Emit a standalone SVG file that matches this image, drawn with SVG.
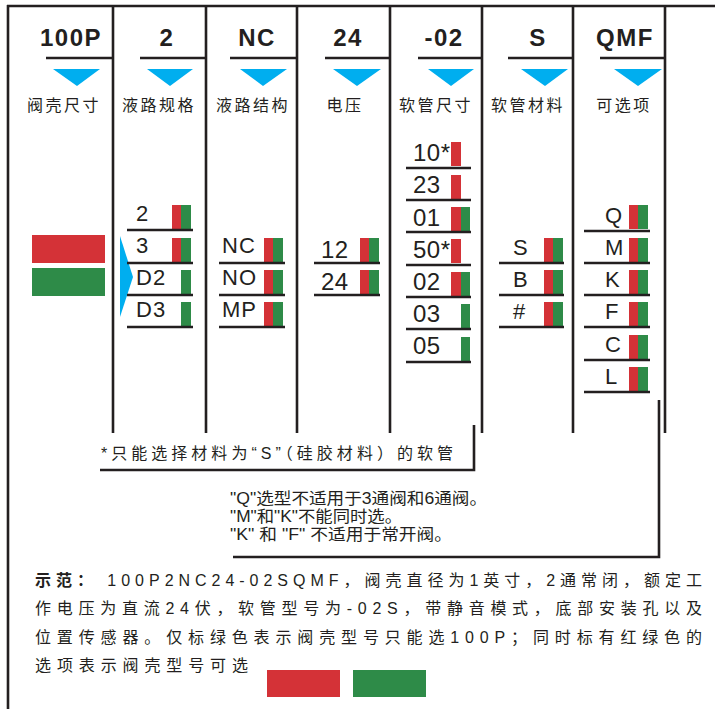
<svg xmlns="http://www.w3.org/2000/svg" width="715" height="709" viewBox="0 0 715 709">
<style>
.ln{stroke:#231f20;stroke-width:2.6;fill:none}
.rl{stroke:#231f20;stroke-width:2.4;fill:none}
.hd{font-family:"Liberation Sans",Arial,sans-serif;font-weight:bold;font-size:24px;fill:#231f20;text-anchor:middle;letter-spacing:1.5px}
.lb{font-family:"Liberation Sans","Noto Sans CJK SC",sans-serif;font-size:16px;fill:#231f20;text-anchor:middle;letter-spacing:2.5px}
.t22{font-family:"Liberation Sans",Arial,sans-serif;font-size:22px;fill:#231f20;letter-spacing:1px}
.t24{font-family:"Liberation Sans",Arial,sans-serif;font-size:24px;fill:#231f20;letter-spacing:0.5px}
.nt{font-family:"Liberation Sans","Noto Sans CJK SC",sans-serif;font-size:16px;fill:#231f20}
.bt{font-family:"Liberation Sans","Noto Sans CJK SC",sans-serif;font-size:16px;fill:#231f20}
.tri{fill:#00aeef}
.r{fill:#d43237}
.g{fill:#2e8b48}
</style>

<g id="frame">
<line class="ln" x1="7" y1="6" x2="715" y2="6"/>
<line class="ln" x1="8" y1="5" x2="8" y2="709"/>
<line class="ln" x1="113" y1="6" x2="113" y2="433"/>
<line class="ln" x1="206" y1="6" x2="206" y2="433"/>
<line class="ln" x1="297" y1="6" x2="297" y2="433"/>
<line class="ln" x1="390" y1="6" x2="390" y2="433"/>
<line class="ln" x1="482" y1="6" x2="482" y2="433"/>
<line class="ln" x1="573" y1="6" x2="573" y2="433"/>
<line class="ln" x1="665" y1="6" x2="665" y2="433"/>
</g>

<g id="col-size">
<text class="hd" x="71" y="46">100P</text>
<line class="ln" x1="46" y1="58" x2="112" y2="58"/>
<polygon class="tri" points="53,69 100,69 77,86"/>
<text class="lb" x="64" y="111">阀壳尺寸</text>
<rect class="r" x="32" y="235" width="73" height="28"/>
<rect class="g" x="32" y="268" width="73" height="28"/>
</g>

<g id="col-spec">
<text class="hd" x="167" y="46">2</text>
<line class="ln" x1="140" y1="58" x2="205" y2="58"/>
<polygon class="tri" points="147,69 193,69 170,86"/>
<text class="lb" x="159" y="111">液路规格</text>
<polygon class="tri" points="120,236 133,277 120,317"/>
<text class="t22" x="136" y="221">2</text>
<text class="t22" x="136" y="253">3</text>
<text class="t22" x="136" y="285">D2</text>
<text class="t22" x="136" y="317">D3</text>
<rect class="r" x="172" y="205" width="9" height="24"/><rect class="g" x="181" y="205" width="10" height="24"/>
<rect class="r" x="172" y="238" width="9" height="24"/><rect class="g" x="181" y="238" width="10" height="24"/>
<rect class="g" x="181" y="270" width="10" height="24"/>
<rect class="g" x="181" y="302" width="10" height="24"/>
<line class="rl" x1="127" y1="230" x2="193" y2="230"/>
<line class="rl" x1="127" y1="263" x2="193" y2="263"/>
<line class="rl" x1="127" y1="295" x2="193" y2="295"/>
<line class="rl" x1="127" y1="327" x2="193" y2="327"/>
</g>

<g id="col-struct">
<text class="hd" x="257" y="46">NC</text>
<line class="ln" x1="230" y1="58" x2="296" y2="58"/>
<polygon class="tri" points="240,69 287,69 263,86"/>
<text class="lb" x="253" y="111">液路结构</text>
<text class="t22" x="222" y="253">NC</text>
<text class="t22" x="222" y="285">NO</text>
<text class="t22" x="222" y="317">MP</text>
<rect class="r" x="264" y="238" width="9" height="24"/><rect class="g" x="273" y="238" width="10" height="24"/>
<rect class="r" x="264" y="270" width="9" height="24"/><rect class="g" x="273" y="270" width="10" height="24"/>
<rect class="r" x="264" y="302" width="9" height="24"/><rect class="g" x="273" y="302" width="10" height="24"/>
<line class="rl" x1="219" y1="263" x2="285" y2="263"/>
<line class="rl" x1="219" y1="295" x2="285" y2="295"/>
<line class="rl" x1="219" y1="327" x2="285" y2="327"/>
</g>

<g id="col-voltage">
<text class="hd" x="348" y="46">24</text>
<line class="ln" x1="325" y1="58" x2="389" y2="58"/>
<polygon class="tri" points="333,69 381,69 357,86"/>
<text class="lb" x="345" y="111">电压</text>
<text class="t24" x="321" y="258">12</text>
<text class="t24" x="321" y="290">24</text>
<rect class="r" x="360" y="238" width="9" height="24"/><rect class="g" x="369" y="238" width="10" height="24"/>
<rect class="r" x="360" y="270" width="9" height="24"/><rect class="g" x="369" y="270" width="10" height="24"/>
<line class="rl" x1="314" y1="263" x2="380" y2="263"/>
<line class="rl" x1="314" y1="295" x2="380" y2="295"/>
</g>

<g id="col-tube">
<text class="hd" x="444" y="46">-02</text>
<line class="ln" x1="418" y1="58" x2="481" y2="58"/>
<polygon class="tri" points="428,69 474,69 451,86"/>
<text class="lb" x="436" y="111">软管尺寸</text>
<text class="t24" x="413" y="161">10*</text>
<text class="t24" x="413" y="193">23</text>
<text class="t24" x="413" y="226">01</text>
<text class="t24" x="413" y="258">50*</text>
<text class="t24" x="413" y="290">02</text>
<text class="t24" x="413" y="322">03</text>
<text class="t24" x="413" y="354">05</text>
<rect class="r" x="451" y="142" width="10" height="24"/>
<rect class="r" x="451" y="175" width="10" height="24"/>
<rect class="r" x="451" y="207" width="10" height="24"/><rect class="g" x="461" y="207" width="9" height="24"/>
<rect class="r" x="451" y="239" width="10" height="24"/>
<rect class="r" x="451" y="272" width="10" height="24"/><rect class="g" x="461" y="272" width="9" height="24"/>
<rect class="g" x="461" y="304" width="9" height="24"/>
<rect class="g" x="461" y="337" width="9" height="24"/>
<line class="rl" x1="406" y1="168" x2="471" y2="168"/>
<line class="rl" x1="406" y1="200" x2="471" y2="200"/>
<line class="rl" x1="406" y1="232" x2="471" y2="232"/>
<line class="rl" x1="406" y1="265" x2="471" y2="265"/>
<line class="rl" x1="406" y1="297" x2="471" y2="297"/>
<line class="rl" x1="406" y1="329" x2="471" y2="329"/>
<line class="rl" x1="406" y1="362" x2="471" y2="362"/>
</g>

<g id="col-material">
<text class="hd" x="538" y="46">S</text>
<line class="ln" x1="508" y1="58" x2="572" y2="58"/>
<polygon class="tri" points="521,69 568,69 545,86"/>
<text class="lb" x="528" y="111">软管材料</text>
<text class="t22" x="513" y="255">S</text>
<text class="t22" x="513" y="287">B</text>
<text class="t22" x="513" y="319">#</text>
<rect class="r" x="544" y="238" width="9" height="24"/><rect class="g" x="553" y="238" width="10" height="24"/>
<rect class="r" x="544" y="270" width="9" height="24"/><rect class="g" x="553" y="270" width="10" height="24"/>
<rect class="r" x="544" y="302" width="9" height="24"/><rect class="g" x="553" y="302" width="10" height="24"/>
<line class="rl" x1="499" y1="263" x2="564" y2="263"/>
<line class="rl" x1="499" y1="295" x2="564" y2="295"/>
<line class="rl" x1="499" y1="327" x2="564" y2="327"/>
</g>

<g id="col-options">
<text class="hd" x="625" y="46">QMF</text>
<line class="ln" x1="600" y1="58" x2="664" y2="58"/>
<polygon class="tri" points="614,69 662,69 638,86"/>
<text class="lb" x="624" y="111">可选项</text>
<text class="t22" x="605" y="223">Q</text>
<text class="t22" x="605" y="255">M</text>
<text class="t22" x="605" y="287">K</text>
<text class="t22" x="605" y="319">F</text>
<text class="t22" x="605" y="352">C</text>
<text class="t22" x="605" y="384">L</text>
<rect class="r" x="629" y="205" width="9" height="24"/><rect class="g" x="638" y="205" width="10" height="24"/>
<rect class="r" x="629" y="238" width="9" height="24"/><rect class="g" x="638" y="238" width="10" height="24"/>
<rect class="r" x="629" y="270" width="9" height="24"/><rect class="g" x="638" y="270" width="10" height="24"/>
<rect class="r" x="629" y="302" width="9" height="24"/><rect class="g" x="638" y="302" width="10" height="24"/>
<rect class="r" x="629" y="335" width="9" height="24"/><rect class="g" x="638" y="335" width="10" height="24"/>
<rect class="r" x="629" y="367" width="9" height="24"/><rect class="g" x="638" y="367" width="10" height="24"/>
<line class="rl" x1="584" y1="231" x2="650" y2="231"/>
<line class="rl" x1="584" y1="263" x2="650" y2="263"/>
<line class="rl" x1="584" y1="295" x2="650" y2="295"/>
<line class="rl" x1="584" y1="327" x2="650" y2="327"/>
<line class="rl" x1="584" y1="360" x2="650" y2="360"/>
<line class="rl" x1="584" y1="392" x2="650" y2="392"/>
</g>

<g id="connectors">
<polyline class="ln" points="474,425 474,470 100,470"/>
<polyline class="ln" points="659,400 659,557 233,557"/>
</g>

<g id="note-tube">
<text class="nt" x="101" y="459" textLength="352" lengthAdjust="spacing">*只能选择材料为“S”（硅胶材料）的软管</text>
</g>

<g id="note-options">
<text class="nt" x="230" y="504" textLength="257" lengthAdjust="spacingAndGlyphs">"Q"选型不适用于3通阀和6通阀。</text>
<text class="nt" x="230" y="522" textLength="172" lengthAdjust="spacingAndGlyphs">"M"和"K"不能同时选。</text>
<text class="nt" x="230" y="540" textLength="222" lengthAdjust="spacingAndGlyphs">"K" 和 "F" 不适用于常开阀。</text>
</g>

<g id="example">
<text class="bt" x="35" y="586" textLength="667" lengthAdjust="spacing"><tspan font-weight="bold">示范：</tspan> 100P2NC24-02SQMF，阀壳直径为1英寸，2通常闭，额定工</text>
<text class="bt" x="35" y="614" textLength="667" lengthAdjust="spacing">作电压为直流24伏，软管型号为-02S，带静音模式，底部安装孔以及</text>
<text class="bt" x="35" y="643" textLength="667" lengthAdjust="spacing">位置传感器。仅标绿色表示阀壳型号只能选100P；同时标有红绿色的</text>
<text class="bt" x="35" y="671" textLength="213" lengthAdjust="spacing">选项表示阀壳型号可选</text>
<rect class="r" x="267" y="670" width="73" height="27"/>
<rect class="g" x="353" y="670" width="73" height="27"/>
</g>
</svg>
